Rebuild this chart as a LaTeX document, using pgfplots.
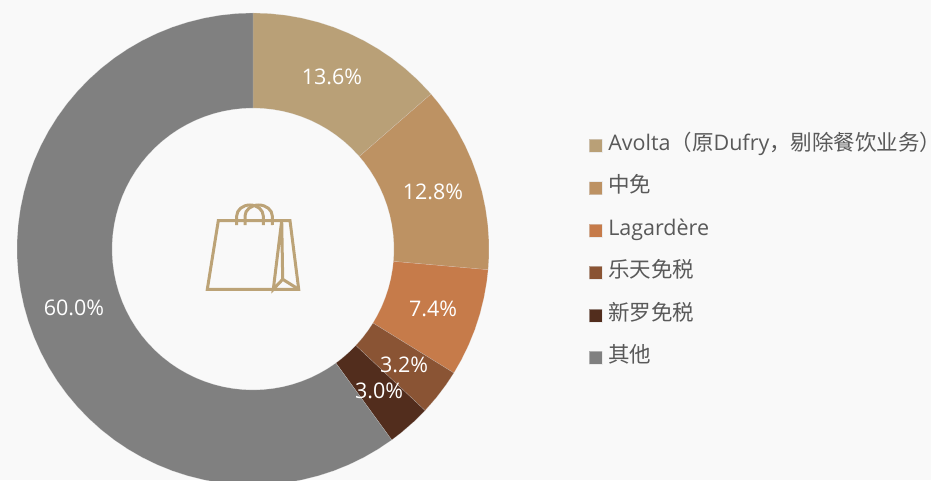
\documentclass[border=0pt]{standalone}
\usepackage{fontspec}
\setmainfont{Open Sans}
\newfontfamily\cjk{Noto Sans CJK SC}
\newfontfamily\cjkp[RawFeature=+palt]{Noto Sans CJK SC}
\usepackage{pgfplots}
\pgfplotsset{compat=1.18}
\definecolor{bg}{HTML}{F9F9F9}
\definecolor{avolta}{HTML}{B9A077}
\definecolor{zhongmian}{HTML}{BD9263}
\definecolor{lagardere}{HTML}{C67B4A}
\definecolor{lotte}{HTML}{8A5434}
\definecolor{shilla}{HTML}{522D1D}
\definecolor{others}{HTML}{808080}
\definecolor{legendtext}{HTML}{595959}
\definecolor{bag}{HTML}{BCA377}
\begin{document}
\begin{tikzpicture}
\begin{axis}[
    width=931pt, height=480pt,
    scale only axis,
    xmin=-253, xmax=678,
    ymin=-231, ymax=249,
    axis line style={draw=none},
    ticks=none,
    axis background/.style={fill=bg},
    data cs=polar,
    font=\fontsize{21.5}{25}\selectfont,
    legend cell align=left,
    legend style={
        at={(axis cs:335.5,115.6)}, anchor=north west,
        draw=none, fill=none, inner sep=0pt, outer sep=0pt,
        row sep=17.8pt, column sep=6.5pt,
        text=legendtext,
        font=\fontsize{21.5}{25}\selectfont,
        nodes={text height=17pt, text depth=7.6pt, inner sep=0pt},
    },
    legend image code/.code={
        \path[#1] (0pt,-6.5pt) rectangle (13pt,6.5pt);
    },
    every axis plot/.append style={draw=bg!60!black!30!white, draw opacity=0.5, line width=0.25pt},
]
% angles in degrees (counter-clockwise from east), radii 236 and 141
\addplot[fill=avolta] coordinates {
    (90,236) (86,236) (82,236) (78,236) (74,236) (70,236) (66,236) (62,236) (58,236) (54,236) (50,236) (46,236) (42,236) (41.04,236)
    (41.04,141) (42,141) (46,141) (50,141) (54,141) (58,141) (62,141) (66,141) (70,141) (74,141) (78,141) (82,141) (86,141) (90,141)
} -- cycle;
\addplot[fill=zhongmian] coordinates {
    (41.04,236) (38,236) (34,236) (30,236) (26,236) (22,236) (18,236) (14,236) (10,236) (6,236) (2,236) (-2,236) (-5.04,236)
    (-5.04,141) (-2,141) (2,141) (6,141) (10,141) (14,141) (18,141) (22,141) (26,141) (30,141) (34,141) (38,141) (41.04,141)
} -- cycle;
\addplot[fill=lagardere] coordinates {
    (-5.04,236) (-8,236) (-12,236) (-16,236) (-20,236) (-24,236) (-28,236) (-31.68,236)
    (-31.68,141) (-28,141) (-24,141) (-20,141) (-16,141) (-12,141) (-8,141) (-5.04,141)
} -- cycle;
\addplot[fill=lotte] coordinates {
    (-31.68,236) (-35,236) (-39,236) (-43.2,236)
    (-43.2,141) (-39,141) (-35,141) (-31.68,141)
} -- cycle;
\addplot[fill=shilla] coordinates {
    (-43.2,236) (-47,236) (-51,236) (-54,236)
    (-54,141) (-51,141) (-47,141) (-43.2,141)
} -- cycle;
\addplot[fill=others] coordinates {
    (-54,236) (-58,236) (-62,236) (-66,236) (-70,236) (-74,236) (-78,236) (-82,236) (-86,236) (-90,236)
    (-94,236) (-98,236) (-102,236) (-106,236) (-110,236) (-114,236) (-118,236) (-122,236) (-126,236) (-130,236)
    (-134,236) (-138,236) (-142,236) (-146,236) (-150,236) (-154,236) (-158,236) (-162,236) (-166,236) (-170,236)
    (-174,236) (-178,236) (-182,236) (-186,236) (-190,236) (-194,236) (-198,236) (-202,236) (-206,236) (-210,236)
    (-214,236) (-218,236) (-222,236) (-226,236) (-230,236) (-234,236) (-238,236) (-242,236) (-246,236) (-250,236)
    (-254,236) (-258,236) (-262,236) (-266,236) (-270,236)
    (-270,141) (-266,141) (-262,141) (-258,141) (-254,141)
    (-250,141) (-246,141) (-242,141) (-238,141) (-234,141) (-230,141) (-226,141) (-222,141) (-218,141) (-214,141)
    (-210,141) (-206,141) (-202,141) (-198,141) (-194,141) (-190,141) (-186,141) (-182,141) (-178,141) (-174,141)
    (-170,141) (-166,141) (-162,141) (-158,141) (-154,141) (-150,141) (-146,141) (-142,141) (-138,141) (-134,141)
    (-130,141) (-126,141) (-122,141) (-118,141) (-114,141) (-110,141) (-106,141) (-102,141) (-98,141) (-94,141)
    (-90,141) (-86,141) (-82,141) (-78,141) (-74,141) (-70,141) (-66,141) (-62,141) (-58,141) (-54,141)
} -- cycle;
\legend{Avolta{\cjk（原}Dufry{\cjk，剔除餐饮业务}\rlap{\cjkp ）},{\cjk 中免},Lagardère,{\cjk 乐天免税},{\cjk 新罗免税},{\cjk 其他}}

% percentage labels
\node[text=white] at (axis cs:79,172) {13.6\%};
\node[text=white] at (axis cs:180,57) {12.8\%};
\node[text=white] at (axis cs:180,-60) {7.4\%};
\node[text=white] at (axis cs:151,-116) {3.2\%};
\node[text=white] at (axis cs:126,-142) {3.0\%};
\node[text=white] at (axis cs:-179,-59) {60.0\%};

% bag icon
\draw[bag, line width=3pt, line join=miter]
    (axis cs:-34.7,28.3) -- (axis cs:37,28.3) -- (axis cs:45.7,-40.3) -- (axis cs:-45.7,-40.3) -- cycle;
\draw[bag, line width=3pt]
    (axis cs:28.7,28.3) -- (axis cs:20.3,-40.3) -- (axis cs:29.7,-30.3) -- (axis cs:45.7,-40.3)
    (axis cs:28.7,28.3) -- (axis cs:29.7,-30.3);
\draw[bag, line width=3pt]
    (axis cs:-16.3,24) -- (axis cs:-16.3,33) arc[start angle=180, end angle=0, x radius=13.3pt, y radius=11pt] -- (axis cs:10.3,24);
\draw[bag, line width=3pt]
    (axis cs:-8,24) -- (axis cs:-8,33) arc[start angle=180, end angle=0, x radius=13.65pt, y radius=11pt] -- (axis cs:19.3,24);
\end{axis}
\end{tikzpicture}
\end{document}
